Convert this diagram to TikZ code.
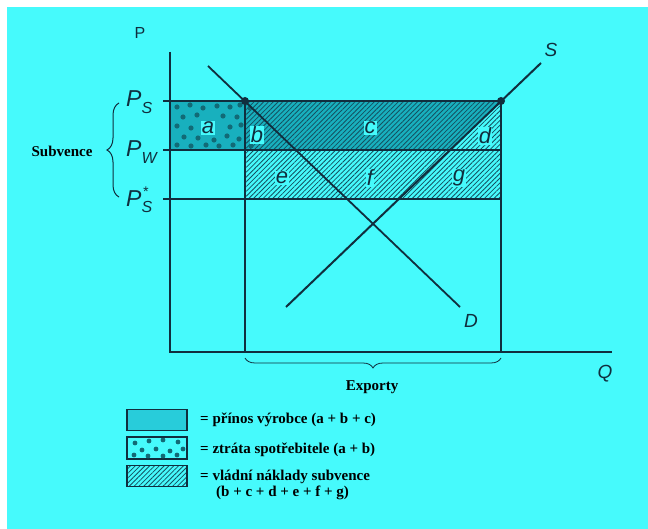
\documentclass[tikz,border=0pt]{standalone}
\usepackage{fontspec}
\setmainfont{Liberation Serif}
\newfontfamily\lblfont{Liberation Sans}
\usetikzlibrary{patterns.meta,decorations.pathreplacing}
\definecolor{bg}{RGB}{70,250,252}
\definecolor{gain}{RGB}{24,176,190}
\definecolor{legfill}{RGB}{40,204,218}
\definecolor{dotc}{RGB}{18,106,118}
\definecolor{ink}{RGB}{16,46,62}
\definecolor{hatchc}{RGB}{20,80,96}
\begin{document}
\begin{tikzpicture}[x=1pt,y=-1pt,
  curve/.style={draw=ink,line width=1.8pt},
  thin/.style={draw=ink,line width=1.3pt},
  hatched/.style={pattern={Lines[angle=45,distance=3.4pt,line width=0.8pt]},pattern color=hatchc},
  lbl/.style={font=\lblfont\itshape\fontsize{22}{22}\selectfont,text=ink,fill=bg,inner sep=1pt},
  axlbl/.style={font=\lblfont\itshape\fontsize{19}{19}\selectfont,text=ink,inner sep=0pt},
  plbl/.style={font=\lblfont\itshape\fontsize{23}{23}\selectfont,text=ink,inner sep=0pt,anchor=west},
  txt/.style={font=\bfseries\fontsize{15}{15}\selectfont,text=black,inner sep=0pt},
  legbox/.style={draw=ink,line width=1.2pt,minimum width=60pt,minimum height=21pt,inner sep=0pt},
  dotm/.style={fill=dotc},
  brc/.style={draw=ink,line width=1pt,decorate}
]
\useasboundingbox (0,0) rectangle (648,529);
\fill[white] (0,0) rectangle (648,529);
\fill[bg] (7,7) rectangle (648,529);

% key points
\coordinate (O) at (170,352);
\coordinate (Ptop) at (170,52);
\coordinate (Qend) at (612,352);
\coordinate (D1) at (208,66);
\coordinate (D2) at (460,307);
\coordinate (S1) at (286,307);
\coordinate (S2) at (541,63);
\coordinate (A) at (245,101);
\coordinate (B) at (501,101);
\coordinate (Sw) at (450,150);
\coordinate (AL) at (170,101);
\coordinate (WL) at (170,150);
\coordinate (Bb) at (501,199);
\coordinate (Ax) at (245,352);
\coordinate (Bx) at (501,352);

% shaded areas
\fill[gain] (AL) -- (B) -- (Sw) -- (WL) -- cycle;
\fill[hatched] (A) rectangle (Bb);
\foreach \x/\y in {177/107,190/105,203/108,217/106,230/107,240/105,
                   183/117,197/115,223/116,237/117,
                   177/126,191/128,230/127,241/125,
                   184/137,198/138,214/140,227/136,239/139,
                   177/145,191/146,206/145,219/146,233/145,
                   250/108,251/146}
  \fill[dotm] (\x,\y) circle (2.6pt);

% letters
\node[lbl] (la) at (208,128) {a};
\node[lbl] (lb) at (257,135) {b};
\node[lbl] (lc) at (370,128) {c};
\node[lbl] (ld) at (485,136) {d};
\node[lbl] (le) at (282,178) {e};
\node[lbl] (lf) at (370,178) {f};
\node[lbl] (lg) at (459,178) {g};

% price lines
\draw[thin] (163,101) -- (B);
\draw[thin] (163,150) -- (501,150);
\draw[thin] (163,199) -- (Bb);
\draw[thin] (A) -- (Ax);
\draw[thin] (B) -- (Bx);

% axes
\draw[thin,line width=1.6pt] (Ptop) -- (O) -- (Qend);

% demand and supply
\draw[curve] (D1) -- (D2);
\draw[curve,line width=2pt] (S1) -- (S2);
\fill[ink] (A) circle (4pt);
\fill[ink] (B) circle (4pt);

% axis labels
\node[font=\lblfont\fontsize{16}{16}\selectfont,text=ink] (lP) at (140,33) {P};
\node[axlbl] (lQ) at (605,374) {Q};
\node[axlbl] (lS) at (551,50) {S};
\node[axlbl] (lD) at (471,321) {D};
\node[plbl] (ps) at (126,102) {P\raisebox{-0.28em}{\fontsize{16}{16}\selectfont S}};
\node[plbl] (pw) at (126,152) {P\raisebox{-0.28em}{\fontsize{16}{16}\selectfont W}};
\node[plbl] (pss) at (126,200) {P\raisebox{-0.28em}{\fontsize{16}{16}\selectfont S}\hspace{-0.42em}\raisebox{0.42em}{\fontsize{14}{14}\selectfont *}};

% braces
\coordinate (br1) at (119,197);
\coordinate (br2) at (119,103);
\draw[brc,decoration={brace,amplitude=12pt}] (br1) -- (br2);
\node[txt] (sub) at (62,151) {Subvence};
\coordinate (ex1) at (501,358);
\coordinate (ex2) at (245,358);
\draw[brc,line width=0.8pt,decoration={brace,amplitude=10pt}] (ex1) -- (ex2);
\node[txt] (exp) at (372,387) {Exporty};

% legend
\node[legbox,fill=legfill] (k1) at (157,420) {};
\node[legbox,fill=bg] (k2) at (157,448) {};
\node[legbox,hatched] (k3) at (157,476) {};
\foreach \x/\y in {135/443,149/441,163/440,178/442,
                   142/450,156/449,170/451,183/449,
                   134/455,148/456,163/456,177/455}
  \fill[dotm] (\x,\y) circle (2.4pt);
\draw[draw=ink,line width=1.2pt] (k2.south west) rectangle (k2.north east);
\node[txt,anchor=west] (t1) at (200,420) {= přínos výrobce (a + b + c)};
\node[txt,anchor=west] (t2) at (200,450) {= ztráta spotřebitele (a + b)};
\node[txt,anchor=west] (t3) at (200,477) {= vládní náklady subvence};
\node[txt,anchor=west] (t4) at (216,493) {(b + c + d + e + f + g)};
\end{tikzpicture}
\end{document}
